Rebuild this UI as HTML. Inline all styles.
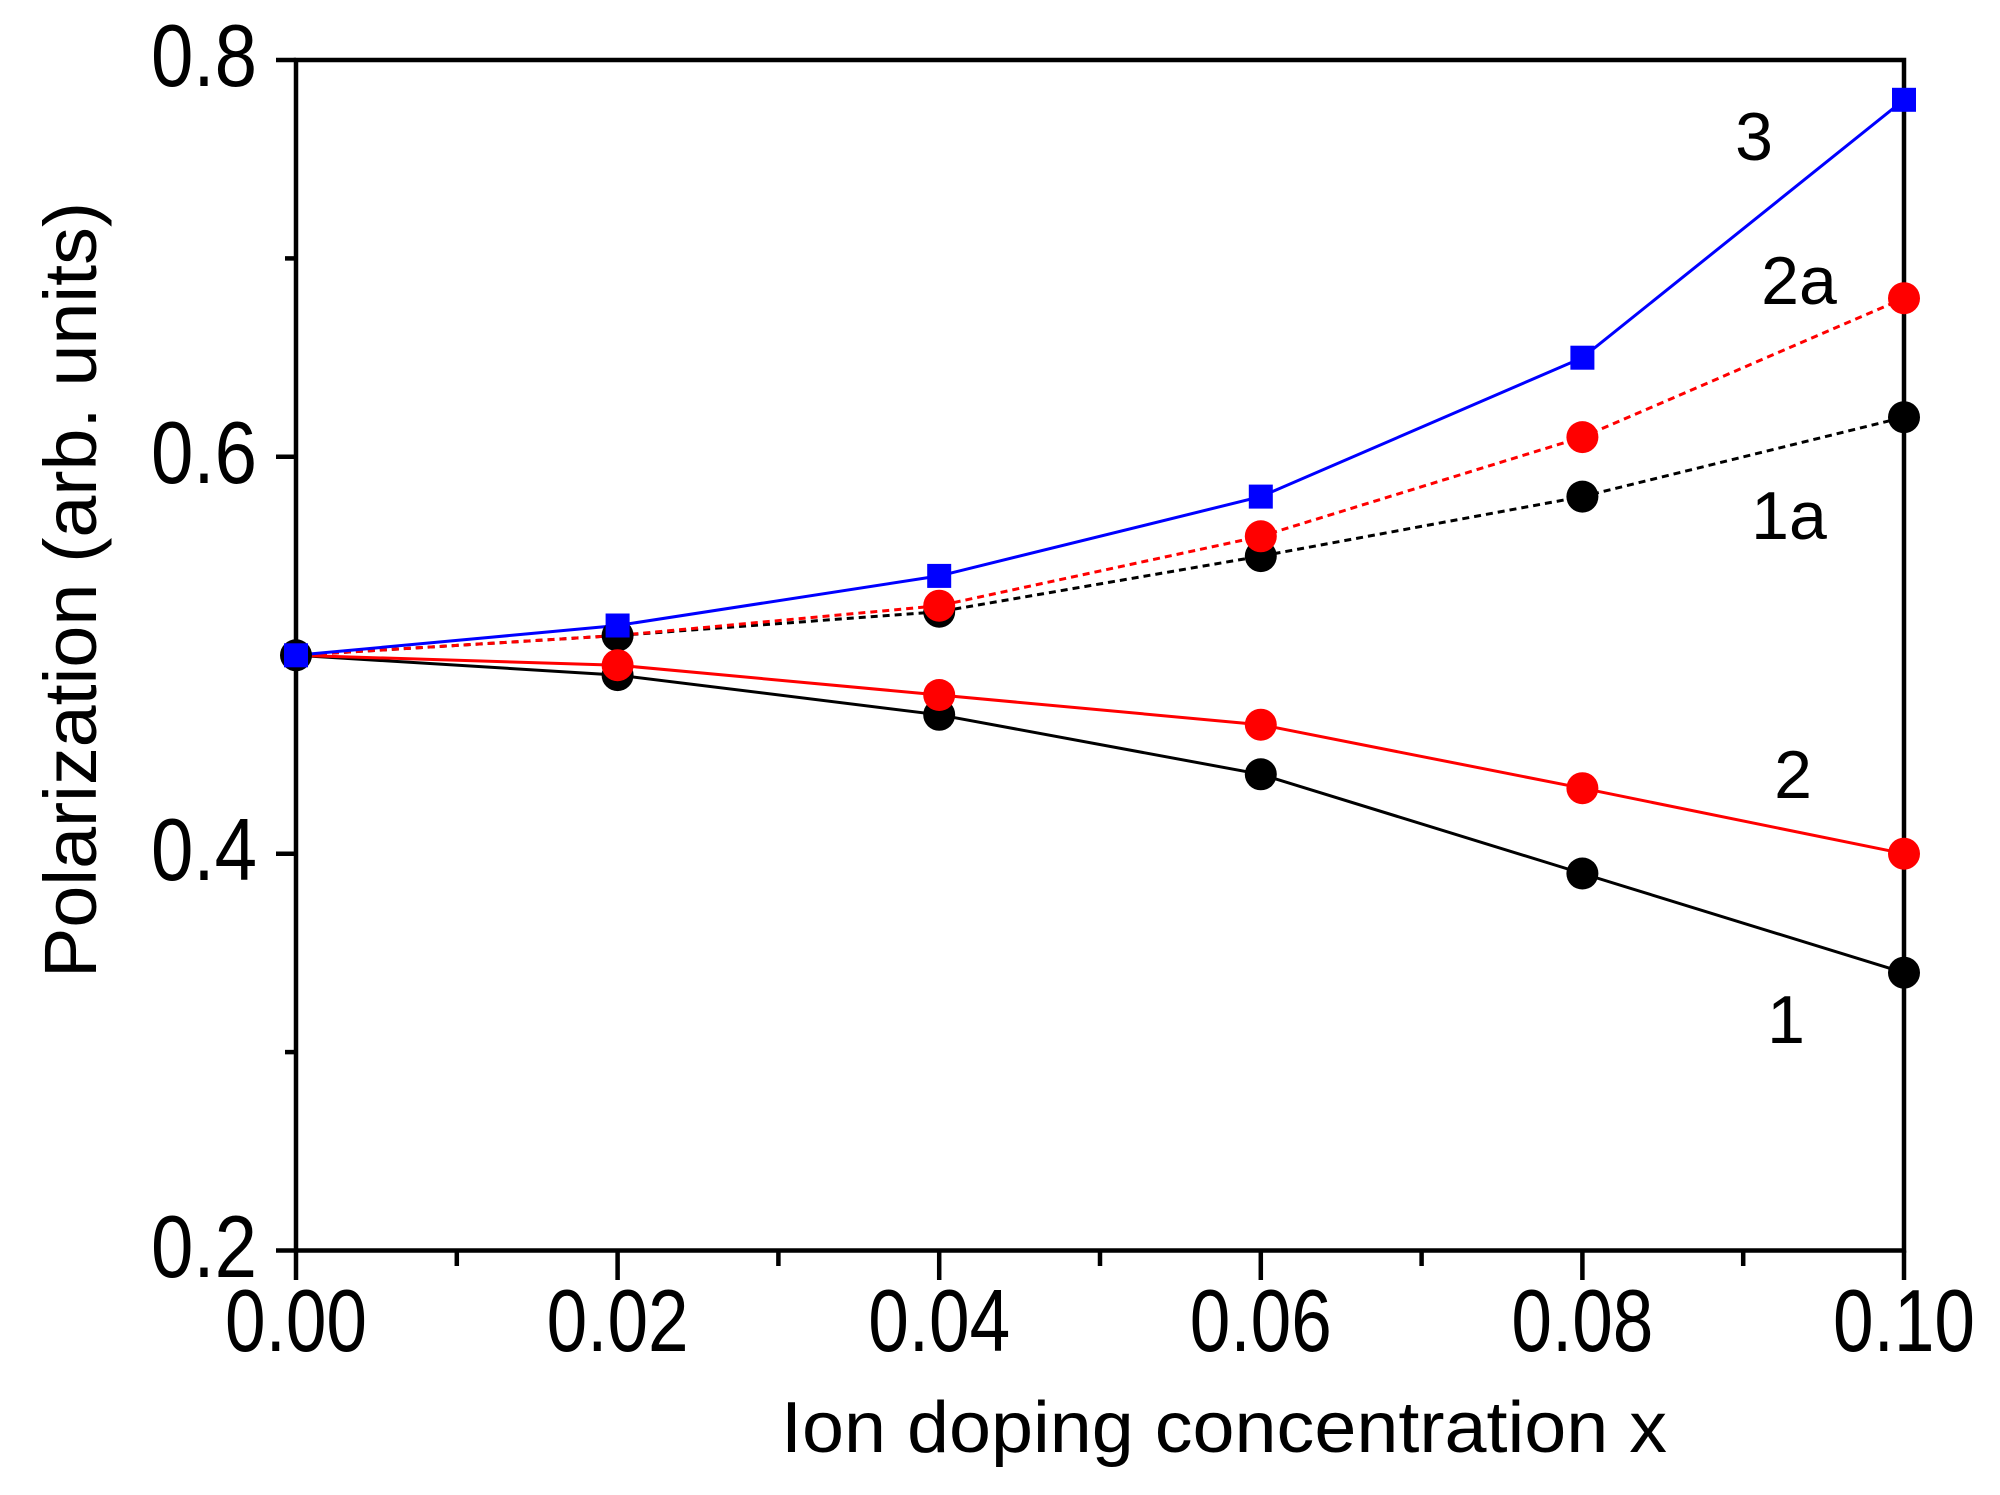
<!DOCTYPE html>
<html><head><meta charset="utf-8"><style>html,body{margin:0;padding:0;background:#fff}svg{display:block}</style></head>
<body>
<svg width="2000" height="1495" viewBox="0 0 2000 1495" xmlns="http://www.w3.org/2000/svg" font-family="'Liberation Sans', sans-serif">
<rect width="2000" height="1495" fill="#fff"/>
<rect x="296" y="60" width="1608" height="1190.5" fill="none" stroke="#000" stroke-width="4.5"/>
<g stroke="#000" stroke-width="4.5">
<line x1="276" y1="60" x2="296" y2="60"/><line x1="276" y1="456.8" x2="296" y2="456.8"/><line x1="276" y1="853.7" x2="296" y2="853.7"/><line x1="276" y1="1250.5" x2="296" y2="1250.5"/>
<line x1="285" y1="258.4" x2="296" y2="258.4"/><line x1="285" y1="655.3" x2="296" y2="655.3"/><line x1="285" y1="1052.1" x2="296" y2="1052.1"/>
<line x1="296" y1="1250.5" x2="296" y2="1280"/><line x1="617.6" y1="1250.5" x2="617.6" y2="1280"/><line x1="939.2" y1="1250.5" x2="939.2" y2="1280"/><line x1="1260.8" y1="1250.5" x2="1260.8" y2="1280"/><line x1="1582.4" y1="1250.5" x2="1582.4" y2="1280"/><line x1="1904" y1="1250.5" x2="1904" y2="1280"/>
<line x1="456.8" y1="1250.5" x2="456.8" y2="1266"/><line x1="778.4" y1="1250.5" x2="778.4" y2="1266"/><line x1="1100" y1="1250.5" x2="1100" y2="1266"/><line x1="1421.6" y1="1250.5" x2="1421.6" y2="1266"/><line x1="1743.2" y1="1250.5" x2="1743.2" y2="1266"/>
</g>
<g font-size="88" fill="#000" text-anchor="end">
<text x="257" y="86" textLength="106" lengthAdjust="spacingAndGlyphs">0.8</text>
<text x="257" y="483" textLength="106" lengthAdjust="spacingAndGlyphs">0.6</text>
<text x="257" y="880" textLength="106" lengthAdjust="spacingAndGlyphs">0.4</text>
<text x="257" y="1277" textLength="106" lengthAdjust="spacingAndGlyphs">0.2</text>
</g>
<g font-size="88" fill="#000" text-anchor="middle">
<text x="296" y="1351" textLength="142" lengthAdjust="spacingAndGlyphs">0.00</text>
<text x="617.6" y="1351" textLength="142" lengthAdjust="spacingAndGlyphs">0.02</text>
<text x="939.2" y="1351" textLength="142" lengthAdjust="spacingAndGlyphs">0.04</text>
<text x="1260.8" y="1351" textLength="142" lengthAdjust="spacingAndGlyphs">0.06</text>
<text x="1582.4" y="1351" textLength="142" lengthAdjust="spacingAndGlyphs">0.08</text>
<text x="1904" y="1351" textLength="142" lengthAdjust="spacingAndGlyphs">0.10</text>
</g>
<text x="781" y="1452" font-size="72" textLength="886" lengthAdjust="spacingAndGlyphs">Ion doping concentration x</text>
<text transform="translate(96,978) rotate(-90)" font-size="74" textLength="776" lengthAdjust="spacingAndGlyphs">Polarization (arb. units)</text>
<g fill="none" stroke-width="3">
<polyline stroke="#000" stroke-dasharray="7,5" points="296,655.3 617.6,635.5 939.2,611.7 1260.8,556.1 1582.4,496.6 1904,417.2"/>
<polyline stroke="#f00" stroke-dasharray="7,5" points="296,655.3 617.6,635.5 939.2,605.7 1260.8,536.3 1582.4,437.1 1904,298.2"/>
<polyline stroke="#000" points="296,655.3 617.6,675.1 939.2,714.8 1260.8,774.3 1582.4,873.5 1904,972.7"/>
<polyline stroke="#f00" points="296,655.3 617.6,665.2 939.2,695 1260.8,724.7 1582.4,788.2 1904,853.7"/>
<polyline stroke="#00f" points="296,655.3 617.6,625.5 939.2,575.9 1260.8,496.6 1582.4,357.7 1904,99.8"/>
</g>
<g fill="#000">
<circle cx="617.6" cy="635.5" r="16"/><circle cx="939.2" cy="611.7" r="16"/><circle cx="1260.8" cy="556.1" r="16"/><circle cx="1582.4" cy="496.6" r="16"/><circle cx="1904" cy="417.2" r="16"/>
<circle cx="617.6" cy="675.1" r="16"/><circle cx="939.2" cy="714.8" r="16"/><circle cx="1260.8" cy="774.3" r="16"/><circle cx="1582.4" cy="873.5" r="16"/><circle cx="1904" cy="972.7" r="16"/>
</g>
<g fill="#f00">
<circle cx="939.2" cy="605.7" r="16"/><circle cx="1260.8" cy="536.3" r="16"/><circle cx="1582.4" cy="437.1" r="16"/><circle cx="1904" cy="298.2" r="16"/>
<circle cx="617.6" cy="665.2" r="16"/><circle cx="939.2" cy="695" r="16"/><circle cx="1260.8" cy="724.7" r="16"/><circle cx="1582.4" cy="788.2" r="16"/><circle cx="1904" cy="853.7" r="16"/>
</g>
<circle cx="296" cy="655.3" r="16" fill="#000"/>
<g fill="#00f">
<rect x="284" y="643.3" width="24" height="24"/><rect x="605.6" y="613.5" width="24" height="24"/><rect x="927.2" y="563.9" width="24" height="24"/><rect x="1248.8" y="484.6" width="24" height="24"/><rect x="1570.4" y="345.7" width="24" height="24"/><rect x="1892" y="87.8" width="24" height="24"/>
</g>
<g font-size="68" fill="#000" text-anchor="middle">
<text x="1754" y="160">3</text>
<text x="1799" y="304">2a</text>
<text x="1789" y="539">1a</text>
<text x="1793" y="798">2</text>
<text x="1786" y="1043">1</text>
</g>
</svg>
</body></html>
